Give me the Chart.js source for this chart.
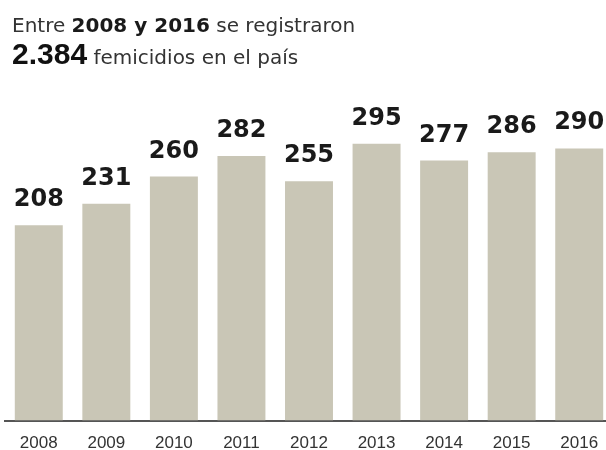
<!DOCTYPE html>
<html>
<head>
<meta charset="utf-8">
<script src="https://cdn.jsdelivr.net/npm/chart.js@4"></script>
<style>
  html, body { margin: 0; padding: 0; background: #fff; overflow: hidden; }
  body { width: 606px; height: 450px; position: relative; }
  #title { position: absolute; left: 12px; top: 12px; font-family: "DejaVu Sans", sans-serif; color: #333; z-index: 2; white-space: nowrap; }
  #title .l1 { font-size: 20px; line-height: 26px; }
  #title .l2 { font-size: 20px; line-height: 32px; }
  #title b { color: #1a1a1a; }
  #title .big { font-family: "Liberation Sans", Arial, sans-serif; font-size: 30px; font-weight: bold; color: #111; }
  #wrap { position: absolute; left: 0; top: 0; width: 614px; height: 458px; }
</style>
</head>
<body>
<div id="title">
  <div class="l1">Entre <b>2008 y 2016</b> se registraron</div>
  <div class="l2"><span class="big">2.384</span> femicidios en el país</div>
</div>
<div id="wrap"><canvas id="femChart"></canvas></div>
<script>
const years = ['2008', '2009', '2010', '2011', '2012', '2013', '2014', '2015', '2016'];
const femicidios = [208, 231, 260, 282, 255, 295, 277, 286, 290];

// numbers above each bar
const valueLabels = {
    id: 'valueLabels',
    afterDatasetsDraw(chart) {
        const ctx = chart.ctx;
        const meta = chart.getDatasetMeta(0);
        ctx.save();
        ctx.font = 'bold 24px "DejaVu Sans", sans-serif';
        ctx.fillStyle = '#1a1a1a';
        ctx.textAlign = 'center';
        ctx.textBaseline = 'alphabetic';
        meta.data.forEach(function (bar, i) {
            ctx.fillText(femicidios[i], bar.x, bar.y - 19);
        });
        ctx.restore();
    }
};

const ctx = document.getElementById('femChart').getContext('2d');
new Chart(ctx, {
    type: 'bar',
    data: {
        labels: years,
        datasets: [{
            data: femicidios,
            backgroundColor: '#c9c6b6',
            categoryPercentage: 1,
            barPercentage: 0.71
        }]
    },
    options: {
        responsive: true,
        maintainAspectRatio: false,
        animation: false,
        layout: { padding: { left: 5, right: 1, top: 139, bottom: 0 } },
        plugins: {
            legend: { display: false },
            tooltip: { enabled: false }
        },
        scales: {
            y: {
                display: false,
                min: 0,
                max: 300
            },
            x: {
                grid: { display: false },
                border: { display: true, color: '#555', width: 2 },
                ticks: {
                    color: '#333',
                    padding: 4.5,
                    font: { family: '"Liberation Sans", Arial, sans-serif', size: 17 }
                }
            }
        }
    },
    plugins: [valueLabels]
});
</script>
</body>
</html>
